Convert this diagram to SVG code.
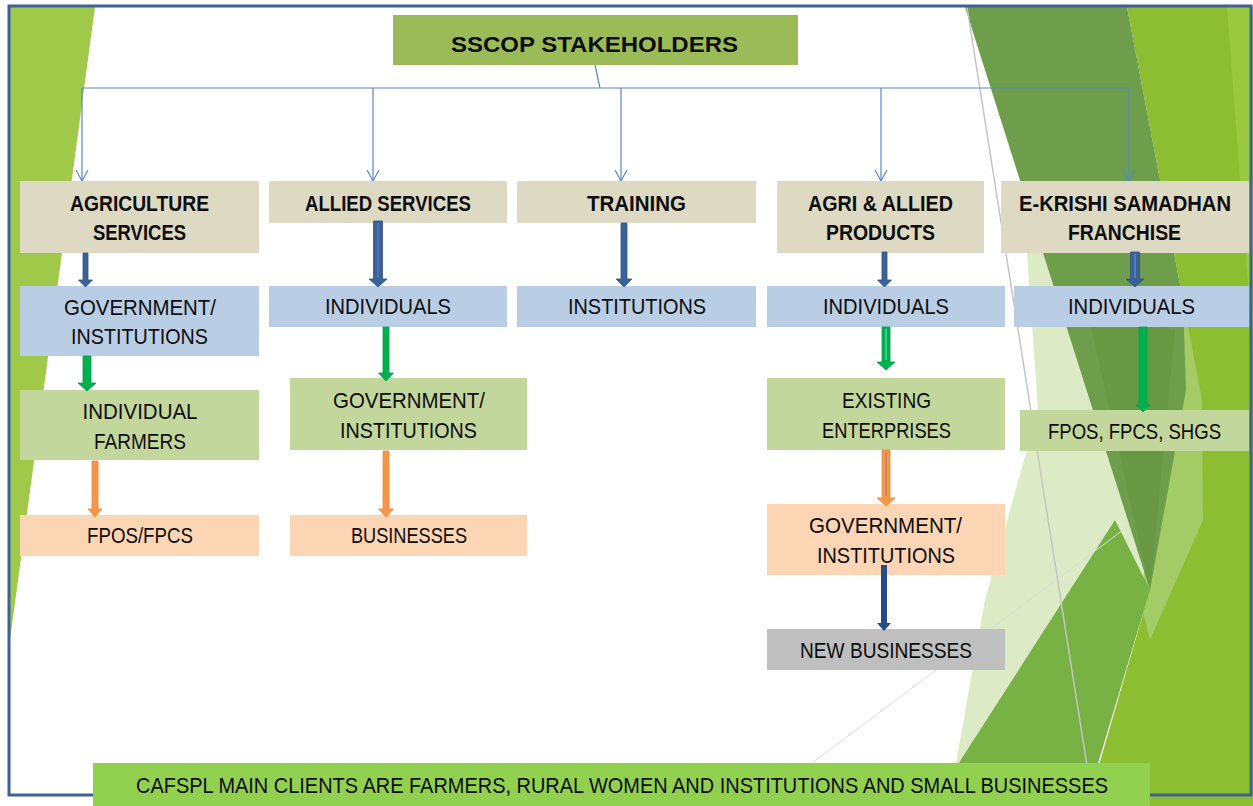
<svg xmlns="http://www.w3.org/2000/svg" width="1253" height="806" viewBox="0 0 1253 806">
<defs>
<style>
.t{font-family:"Liberation Sans",Arial,sans-serif;font-size:22px;fill:#0d0d0d;text-anchor:middle}
.b{font-weight:bold}
.tan{fill:#DDD9C3}
.blu{fill:#B9CDE5}
.grn{fill:#C3D69B}
.pch{fill:#FCD5B5}
.gry{fill:#BFBFBF}
.thin{stroke:#5A88C6;stroke-width:1.2;fill:none}
.ab{fill:#3B6297;stroke:#30538A;stroke-width:0.8}
.ag{fill:#00B050;stroke:#00A048;stroke-width:0.8}
.ao{fill:#F79646;stroke:#E88A3C;stroke-width:0.8}
.ad{fill:#244C88}
.hl{stroke-width:1.2}
</style>
<marker id="open" viewBox="0 0 13 14" refX="12" refY="7" markerWidth="13" markerHeight="14" markerUnits="userSpaceOnUse" orient="auto">
<path d="M1,1 L12,7 L1,13" fill="none" stroke="#5A88C6" stroke-width="1.2"/>
</marker>
</defs>
<rect x="0" y="0" width="1253" height="806" fill="#FFFFFF"/>
<g id="background">
<polygon points="10,7 95,7 10,640" fill="#A0C94A"/>
<polygon points="1026,240 1090,240 1150,590 1087,796 950,796 985,600 1038,410" fill="#DCEBC6"/>
<polygon points="1127,7 1253,7 1253,806 1087,806 1150,590 1183,300" fill="#8DBD30"/>
<polygon points="1227,7 1253,7 1253,350" fill="#9AC83F"/>
<polygon points="1183,300 1202,400 1203,520 1150,640 1140,600" fill="#A3CC66"/>
<polygon points="965,7 1127,7 1183,300 1186,390 1150,590" fill="#6E9D4C"/>
<polygon points="1085,300 1175,330 1150,590" fill="#64953F" opacity="0.6"/>
<polygon points="1115,520 1150,590 1087,800 935,800" fill="#79B244"/>
<line x1="967" y1="7" x2="1088" y2="772" stroke="#C4C4C4" stroke-width="1.5"/>
<line x1="1127" y1="527" x2="812" y2="763" stroke="#DADADA" stroke-width="1"/>
<rect x="9" y="6" width="1242" height="789" fill="none" stroke="#3E6293" stroke-width="3"/>
</g>
<g id="links-thin">
<polyline class="thin" points="595,65 600,88"/>
<line class="thin" x1="82" y1="88" x2="1129" y2="88"/>
<line class="thin" x1="82" y1="88" x2="82" y2="181" marker-end="url(#open)"/>
<line class="thin" x1="373" y1="88" x2="373" y2="181" marker-end="url(#open)"/>
<line class="thin" x1="621" y1="88" x2="621" y2="181" marker-end="url(#open)"/>
<line class="thin" x1="881" y1="88" x2="881" y2="181" marker-end="url(#open)"/>
<line class="thin" x1="1129" y1="88" x2="1129" y2="181" marker-end="url(#open)"/>
</g>
<g id="title">
<rect x="393" y="15" width="405" height="50" fill="#9BBB59"/>
<text class="t b" x="594.5" y="52" font-size="28" textLength="287" lengthAdjust="spacingAndGlyphs">SSCOP STAKEHOLDERS</text>
</g>
<g id="agri-services">
<rect class="tan" x="20" y="181" width="239" height="72"/>
<text class="t b" x="139.5" y="211" textLength="139" lengthAdjust="spacingAndGlyphs">AGRICULTURE</text>
<text class="t b" x="139.5" y="240" textLength="93" lengthAdjust="spacingAndGlyphs">SERVICES</text>
</g>
<g id="allied-services">
<rect class="tan" x="269" y="181" width="238" height="42"/>
<text class="t b" x="388" y="211" textLength="166" lengthAdjust="spacingAndGlyphs">ALLIED SERVICES</text>
</g>
<g id="training">
<rect class="tan" x="517" y="181" width="239" height="42"/>
<text class="t b" x="636.5" y="211" textLength="99" lengthAdjust="spacingAndGlyphs">TRAINING</text>
</g>
<g id="agri-allied-products">
<rect class="tan" x="777" y="181" width="207" height="72"/>
<text class="t b" x="880.5" y="211" textLength="145" lengthAdjust="spacingAndGlyphs">AGRI &amp; ALLIED</text>
<text class="t b" x="880.5" y="240" textLength="109" lengthAdjust="spacingAndGlyphs">PRODUCTS</text>
</g>
<g id="e-krishi">
<rect class="tan" x="1001" y="181" width="248" height="72"/>
<text class="t b" x="1125" y="211" textLength="212" lengthAdjust="spacingAndGlyphs">E-KRISHI SAMADHAN</text>
<text class="t b" x="1124.5" y="240" textLength="113" lengthAdjust="spacingAndGlyphs">FRANCHISE</text>
</g>
<g id="agri-gov">
<rect class="blu" x="20" y="286" width="239" height="70"/>
<text class="t" x="140" y="315" textLength="152" lengthAdjust="spacingAndGlyphs">GOVERNMENT/</text>
<text class="t" x="139.5" y="344" textLength="137" lengthAdjust="spacingAndGlyphs">INSTITUTIONS</text>
</g>
<g id="allied-individuals">
<rect class="blu" x="269" y="286" width="238" height="41"/>
<text class="t" x="388" y="314" textLength="126" lengthAdjust="spacingAndGlyphs">INDIVIDUALS</text>
</g>
<g id="training-institutions">
<rect class="blu" x="517" y="286" width="239" height="41"/>
<text class="t" x="637" y="314" textLength="138" lengthAdjust="spacingAndGlyphs">INSTITUTIONS</text>
</g>
<g id="aap-individuals">
<rect class="blu" x="767" y="286" width="238" height="41"/>
<text class="t" x="886" y="314" textLength="126" lengthAdjust="spacingAndGlyphs">INDIVIDUALS</text>
</g>
<g id="ek-individuals">
<rect class="blu" x="1014" y="286" width="235" height="41"/>
<text class="t" x="1131.5" y="314" textLength="127" lengthAdjust="spacingAndGlyphs">INDIVIDUALS</text>
</g>
<g id="agri-farmers">
<rect class="grn" x="20" y="390" width="239" height="70"/>
<text class="t" x="140" y="419" textLength="115" lengthAdjust="spacingAndGlyphs">INDIVIDUAL</text>
<text class="t" x="140" y="449" textLength="92" lengthAdjust="spacingAndGlyphs">FARMERS</text>
</g>
<g id="allied-gov">
<rect class="grn" x="290" y="378" width="237" height="72"/>
<text class="t" x="409" y="408" textLength="152" lengthAdjust="spacingAndGlyphs">GOVERNMENT/</text>
<text class="t" x="408.5" y="438" textLength="137" lengthAdjust="spacingAndGlyphs">INSTITUTIONS</text>
</g>
<g id="aap-existing">
<rect class="grn" x="767" y="378" width="238" height="72"/>
<text class="t" x="886.5" y="408" textLength="89" lengthAdjust="spacingAndGlyphs">EXISTING</text>
<text class="t" x="886.5" y="438" textLength="129" lengthAdjust="spacingAndGlyphs">ENTERPRISES</text>
</g>
<g id="ek-fpos">
<rect class="grn" x="1020" y="410" width="229" height="41"/>
<text class="t" x="1134.5" y="439" textLength="173" lengthAdjust="spacingAndGlyphs">FPOS, FPCS, SHGS</text>
</g>
<g id="agri-fpos">
<rect class="pch" x="20" y="515" width="239" height="41"/>
<text class="t" x="140" y="543" textLength="106" lengthAdjust="spacingAndGlyphs">FPOS/FPCS</text>
</g>
<g id="allied-businesses">
<rect class="pch" x="290" y="515" width="237" height="41"/>
<text class="t" x="409" y="543" textLength="116" lengthAdjust="spacingAndGlyphs">BUSINESSES</text>
</g>
<g id="aap-gov">
<rect class="pch" x="767" y="504" width="238" height="71"/>
<text class="t" x="885.5" y="533" textLength="153" lengthAdjust="spacingAndGlyphs">GOVERNMENT/</text>
<text class="t" x="886" y="563" textLength="138" lengthAdjust="spacingAndGlyphs">INSTITUTIONS</text>
</g>
<g id="aap-new-businesses">
<rect class="gry" x="767" y="629" width="238" height="41"/>
<text class="t" x="886" y="658" textLength="172" lengthAdjust="spacingAndGlyphs">NEW BUSINESSES</text>
</g>
<g id="links-block">
<polygon class="ab" points="83,253 88,253 88,280 92.5,280 85.5,287 78.5,280 83,280"/>
<polygon class="ab" points="373.5,221 382.5,221 382.5,279 387,279 378,287 369,279 373.5,279"/>
<line class="hl" x1="378" y1="223" x2="378" y2="278" stroke="#5F86BD"/>
<polygon class="ab" points="621,223 627,223 627,279 632,279 624,287 616,279 621,279"/>
<polygon class="ab" points="882,252 887,252 887,280 891.5,280 884.5,287 877.5,280 882,280"/>
<polygon class="ab" points="1130.5,252 1139.5,252 1139.5,279 1144,279 1135,287 1126,279 1130.5,279"/>
<line class="hl" x1="1135" y1="254" x2="1135" y2="278" stroke="#6A92CA"/>
<polygon class="ag" points="83,356 91,356 91,383 96,383 87,391 78,383 83,383"/>
<polygon class="ag" points="383,327 389,327 389,373 393.5,373 386,381 378.5,373 383,373"/>
<polygon class="ag" points="882,327 890,327 890,362 895,362 886,370 877,362 882,362"/>
<line class="hl" x1="886" y1="329" x2="886" y2="360" stroke="#7FD3A0"/>
<polygon class="ag" points="1139,327 1147,327 1147,405 1150,405 1143,412 1136,405 1139,405"/>
<polygon class="ao" points="92,461 98,461 98,509 102,509 95,517 88,509 92,509"/>
<polygon class="ao" points="383,451 389,451 389,509 393.5,509 386,517 378.5,509 383,509"/>
<polygon class="ao" points="882,450 890,450 890,498 895,498 886,506 877,498 882,498"/>
<line class="hl" x1="886" y1="452" x2="886" y2="496" stroke="#8E8A9E"/>
<polygon class="ad" points="881,565 887,565 887,623 891,623 884,631 877,623 881,623"/>
</g>
<g id="banner">
<rect x="93" y="763" width="1057" height="43" fill="#92D050"/>
<text class="t" x="622" y="793" font-size="20" textLength="972" lengthAdjust="spacingAndGlyphs">CAFSPL MAIN CLIENTS ARE FARMERS, RURAL WOMEN AND INSTITUTIONS AND SMALL BUSINESSES</text>
</g>
</svg>
